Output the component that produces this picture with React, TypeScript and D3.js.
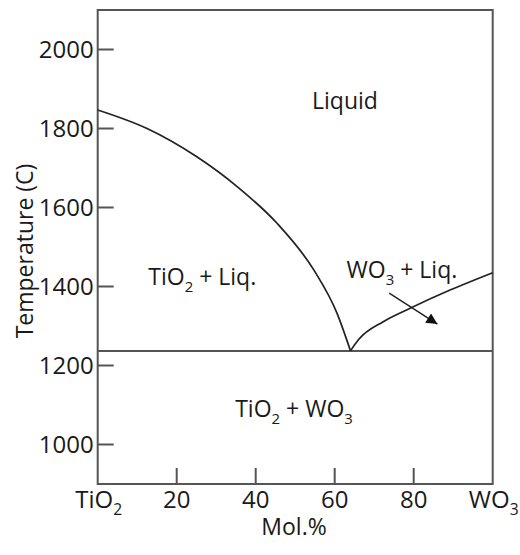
import React, { useEffect, useRef } from "react";
import * as d3 from "d3";

// axis ticks
const xTicks = [20, 40, 60, 80];
const yTicks = [1000, 1200, 1400, 1600, 1800, 2000];

// liquidus curves: [mol.% WO3, temperature C]
const tio2Liquidus: [number, number][] = [
  [0, 1847], [12.5, 1800], [25, 1729], [35.3, 1653], [45.4, 1560],
  [54.7, 1442], [60.6, 1332], [64, 1237],
];
const wo3Liquidus: [number, number][] = [
  [64, 1237], [66, 1265], [72.3, 1311], [79.1, 1345], [89.2, 1391], [100, 1435],
];
const eutecticT = 1237;
const arrowLine: [number, number][] = [[73.8, 1383], [86, 1305]];

const FONT = "'Open Sans', 'DejaVu Sans', sans-serif";

const App = () => {
  const ref = useRef<SVGSVGElement>(null);

  useEffect(() => {
    const svg = d3.select(ref.current);
    svg.selectAll("*").remove();

    const left = 97.7, right = 492.7, top = 10, bottom = 484;
    const x = d3.scaleLinear().domain([0, 100]).range([left, right]);
    const y = d3.scaleLinear().domain([900, 2100]).range([bottom, top]);

    const axisColor = "#555";
    const textColor = "#1a1a1a";

    svg
      .append("defs")
      .append("marker")
      .attr("id", "arrowhead")
      .attr("viewBox", "0 0 10 10")
      .attr("refX", 10)
      .attr("refY", 5)
      .attr("markerWidth", 13)
      .attr("markerHeight", 11)
      .attr("markerUnits", "userSpaceOnUse")
      .attr("orient", "auto")
      .append("path")
      .attr("d", "M0,0 L10,5 L0,10 z")
      .attr("fill", "#111");

    // frame
    svg
      .append("rect")
      .attr("x", left)
      .attr("y", top)
      .attr("width", right - left)
      .attr("height", bottom - top)
      .attr("fill", "none")
      .attr("stroke", axisColor)
      .attr("stroke-width", 2);

    // ticks (inward)
    svg
      .selectAll(".ytick")
      .data(yTicks)
      .enter()
      .append("line")
      .attr("x1", left)
      .attr("x2", left + 16)
      .attr("y1", (d) => y(d))
      .attr("y2", (d) => y(d))
      .attr("stroke", axisColor)
      .attr("stroke-width", 2);

    svg
      .selectAll(".ylabel")
      .data(yTicks)
      .enter()
      .append("text")
      .attr("x", left - 4)
      .attr("y", (d) => y(d) + 8.5)
      .attr("text-anchor", "end")
      .attr("font-family", FONT)
      .attr("font-size", 24)
      .attr("fill", textColor)
      .text((d) => d);

    svg
      .selectAll(".xtick")
      .data(xTicks)
      .enter()
      .append("line")
      .attr("x1", (d) => x(d))
      .attr("x2", (d) => x(d))
      .attr("y1", bottom)
      .attr("y2", bottom - 16)
      .attr("stroke", axisColor)
      .attr("stroke-width", 2);

    svg
      .selectAll(".xlabel")
      .data(xTicks)
      .enter()
      .append("text")
      .attr("x", (d) => x(d))
      .attr("y", 508)
      .attr("text-anchor", "middle")
      .attr("font-family", FONT)
      .attr("font-size", 24)
      .attr("fill", textColor)
      .text((d) => d);

    // text with subscripts: parts = [text, isSub]
    const chem = (
      px: number,
      py: number,
      parts: [string, boolean][],
      anchor: string,
      size: number
    ) => {
      const t = svg
        .append("text")
        .attr("x", px)
        .attr("y", py)
        .attr("text-anchor", anchor)
        .attr("font-family", FONT)
        .attr("font-size", size)
        .attr("fill", textColor)
        .attr("xml:space", "preserve");
      let shifted = false;
      parts.forEach(([s, sub]) => {
        const ts = t.append("tspan").text(s);
        if (sub) {
          ts.attr("font-size", size * 0.65).attr("dy", shifted ? 0 : 7);
          shifted = true;
        } else {
          if (shifted) ts.attr("dy", -7);
          shifted = false;
        }
      });
      return t;
    };

    chem(x(0) + 1, 508, [["TiO", false], ["2", true]], "middle", 24);
    chem(x(100) + 1, 508, [["WO", false], ["3", true]], "middle", 24);

    svg
      .append("text")
      .attr("x", 294)
      .attr("y", 535)
      .attr("text-anchor", "middle")
      .attr("font-family", FONT)
      .attr("font-size", 23)
      .attr("fill", textColor)
      .text("Mol.%");

    svg
      .append("text")
      .attr("transform", `translate(33, ${(165 + 337) / 2}) rotate(-90)`)
      .attr("text-anchor", "middle")
      .attr("font-family", FONT)
      .attr("font-size", 23)
      .attr("fill", textColor)
      .text("Temperature (C)");

    // eutectic line
    svg
      .append("line")
      .attr("x1", left)
      .attr("x2", right)
      .attr("y1", y(eutecticT))
      .attr("y2", y(eutecticT))
      .attr("stroke", axisColor)
      .attr("stroke-width", 2);

    const line = d3
      .line<[number, number]>()
      .x((d) => x(d[0]))
      .y((d) => y(d[1]))
      .curve(d3.curveMonotoneX);

    [tio2Liquidus, wo3Liquidus].forEach((pts) => {
      svg
        .append("path")
        .attr("d", line(pts))
        .attr("fill", "none")
        .attr("stroke", "#222")
        .attr("stroke-width", 1.7);
    });

    svg
      .append("line")
      .attr("x1", x(arrowLine[0][0]))
      .attr("y1", y(arrowLine[0][1]))
      .attr("x2", x(arrowLine[1][0]))
      .attr("y2", y(arrowLine[1][1]))
      .attr("stroke", "#222")
      .attr("stroke-width", 1.5)
      .attr("marker-end", "url(#arrowhead)");

    // region labels
    svg
      .append("text")
      .attr("x", x(62.6))
      .attr("y", y(1849))
      .attr("text-anchor", "middle")
      .attr("font-family", FONT)
      .attr("font-size", 23)
      .attr("fill", textColor)
      .text("Liquid");

    chem(x(12.8), y(1404), [["TiO", false], ["2", true], [" + Liq.", false]], "start", 23);
    chem(x(63), y(1421), [["WO", false], ["3", true], [" + Liq.", false]], "start", 23);
    chem(x(34.8), y(1070), [["TiO", false], ["2", true], [" + WO", false], ["3", true]], "start", 23);
  }, []);

  return (
    <svg
      ref={ref}
      width={520}
      height={555}
      style={{ position: "absolute", left: 0, top: 0, background: "#fff" }}
    ></svg>
  );
};

export default App;
